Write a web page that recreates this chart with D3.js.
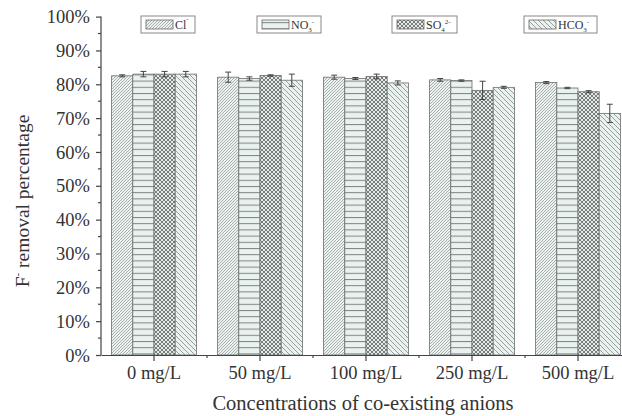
<!DOCTYPE html>
<html>
<head>
<meta charset="utf-8">
<script src="https://cdn.jsdelivr.net/npm/d3@7"></script>
<style>
  body { margin: 0; background: #fff; }
  text { font-family: "Liberation Serif", "Times New Roman", serif; fill: #333; }
</style>
</head>
<body>
<div id="chart"></div>
<script>
var categories = ["0 mg/L", "50 mg/L", "100 mg/L", "250 mg/L", "500 mg/L"];
var seriesNames = ["Cl", "NO3", "SO4", "HCO3"];
var clValues   = [82.5, 82.1, 82.1, 81.3, 80.5];
var no3Values  = [83.0, 81.7, 81.7, 81.1, 78.9];
var so4Values  = [83.0, 82.6, 82.3, 78.2, 77.8];
var hco3Values = [83.0, 81.2, 80.4, 79.1, 71.4];
var clErr   = [0.3, 1.5, 0.6, 0.4, 0.3];
var no3Err  = [0.8, 0.5, 0.3, 0.2, 0.2];
var so4Err  = [0.8, 0.2, 0.7, 2.7, 0.3];
var hco3Err = [0.8, 1.8, 0.6, 0.3, 2.7];
var yTicks = [0, 10, 20, 30, 40, 50, 60, 70, 80, 90, 100];

var width = 622, height = 416;
var x0 = 101, x1 = 631, yBottom = 355, yTop = 16.6; // plot frame

var svg = d3.select('#chart')
  .append('svg')
  .attr('width', width)
  .attr('height', height);

// hatch patterns
var defs = svg.append('defs');
var fillCol = '#eaf2f0', lineCol = '#8f9493';

var p1 = defs.append('pattern').attr('id', 'pCl').attr('patternUnits', 'userSpaceOnUse')
  .attr('width', 3).attr('height', 3);
p1.append('rect').attr('width', 3).attr('height', 3).attr('fill', fillCol);
p1.append('path').attr('d', 'M-1,1 L1,-1 M0,3 L3,0 M2,4 L4,2').attr('stroke', lineCol).attr('stroke-width', 0.7);

var p2 = defs.append('pattern').attr('id', 'pNO3').attr('patternUnits', 'userSpaceOnUse')
  .attr('width', 6).attr('height', 6.2);
p2.append('rect').attr('width', 6).attr('height', 6.2).attr('fill', fillCol);
p2.append('path').attr('d', 'M0,0.5 L6,0.5').attr('stroke', '#7d8382').attr('stroke-width', 1);

var p3 = defs.append('pattern').attr('id', 'pSO4').attr('patternUnits', 'userSpaceOnUse')
  .attr('width', 4).attr('height', 4);
p3.append('rect').attr('width', 4).attr('height', 4).attr('fill', '#e4ebe9');
p3.append('path').attr('d', 'M0,0 L4,4 M4,0 L0,4').attr('stroke', '#6a706e').attr('stroke-width', 0.9);

var p4 = defs.append('pattern').attr('id', 'pHCO3').attr('patternUnits', 'userSpaceOnUse')
  .attr('width', 5).attr('height', 5);
p4.append('rect').attr('width', 5).attr('height', 5).attr('fill', fillCol);
p4.append('path').attr('d', 'M-1,-1 L6,6 M-1,4 L1,6 M4,-1 L6,1').attr('stroke', lineCol).attr('stroke-width', 0.9);

var fills = {Cl: 'url(#pCl)', NO3: 'url(#pNO3)', SO4: 'url(#pSO4)', HCO3: 'url(#pHCO3)'};

var xScale = d3.scaleBand().domain(categories).range([x0, x1]).paddingInner(0).paddingOuter(0);
var xInner = d3.scaleBand().domain(seriesNames).range([0, xScale.bandwidth() * 0.8]);
var yScale = d3.scaleLinear().domain([0, 100]).range([yBottom, yTop]);

var data = [];
categories.forEach(function(c, i){
  data.push({cat: c, s: 'Cl', v: clValues[i], e: clErr[i]});
  data.push({cat: c, s: 'NO3', v: no3Values[i], e: no3Err[i]});
  data.push({cat: c, s: 'SO4', v: so4Values[i], e: so4Err[i]});
  data.push({cat: c, s: 'HCO3', v: hco3Values[i], e: hco3Err[i]});
});

function barX(d){
  return xScale(d.cat) + xScale.bandwidth() * 0.1 + xInner(d.s);
}

svg.selectAll('rect.bar')
  .data(data)
  .enter()
  .append('rect')
  .attr('class', 'bar')
  .attr('x', barX)
  .attr('y', function(d){ return yScale(d.v) })
  .attr('width', xInner.bandwidth())
  .attr('height', function(d){ return yBottom - yScale(d.v) })
  .attr('fill', function(d){ return fills[d.s] })
  .attr('stroke', '#6b6f6e')
  .attr('stroke-width', 0.8);

// error bars
var eb = svg.selectAll('g.err').data(data).enter().append('g').attr('class', 'err')
  .attr('stroke', '#444').attr('stroke-width', 1);
eb.append('line')
  .attr('x1', function(d){ return barX(d) + xInner.bandwidth() / 2 })
  .attr('x2', function(d){ return barX(d) + xInner.bandwidth() / 2 })
  .attr('y1', function(d){ return yScale(d.v - d.e) })
  .attr('y2', function(d){ return yScale(d.v + d.e) });
eb.append('line')
  .attr('x1', function(d){ return barX(d) + xInner.bandwidth() / 2 - 3 })
  .attr('x2', function(d){ return barX(d) + xInner.bandwidth() / 2 + 3 })
  .attr('y1', function(d){ return yScale(d.v + d.e) })
  .attr('y2', function(d){ return yScale(d.v + d.e) });
eb.append('line')
  .attr('x1', function(d){ return barX(d) + xInner.bandwidth() / 2 - 3 })
  .attr('x2', function(d){ return barX(d) + xInner.bandwidth() / 2 + 3 })
  .attr('y1', function(d){ return yScale(d.v - d.e) })
  .attr('y2', function(d){ return yScale(d.v - d.e) });

// y axis
var yAxis = d3.axisLeft(yScale).tickValues(yTicks).tickSize(5).tickFormat(function(d){ return d + '%' });
var gy = svg.append('g').attr('transform', 'translate(' + x0 + ',0)').call(yAxis);
gy.select('.domain').attr('stroke', '#444').attr('stroke-width', 1.2).attr('d', 'M0,' + yTop + 'V' + yBottom);
gy.selectAll('.tick line').attr('stroke', '#444').attr('stroke-width', 1.2);
gy.selectAll('.tick text').attr('font-size', 18.5).attr('x', -11).attr('dy', '0.33em')
  .style('font-family', '"Liberation Serif", serif').attr('fill', '#333');
// minor y ticks
svg.append('g').selectAll('line').data(d3.range(5, 100, 10)).enter().append('line')
  .attr('x1', x0 - 3).attr('x2', x0)
  .attr('y1', function(d){ return yScale(d) }).attr('y2', function(d){ return yScale(d) })
  .attr('stroke', '#444').attr('stroke-width', 1.2);

// x axis
var xAxis = d3.axisBottom(xScale).tickSize(6).tickSizeOuter(0);
var gx = svg.append('g').attr('transform', 'translate(0,' + yBottom + ')').call(xAxis);
gx.select('.domain').attr('stroke', '#444').attr('stroke-width', 1.2);
gx.selectAll('.tick line').attr('stroke', '#444').attr('stroke-width', 1.2);
gx.selectAll('.tick text').attr('font-size', 18.5).attr('y', 11)
  .style('font-family', '"Liberation Serif", serif').attr('fill', '#333');
// minor x ticks at category boundaries
svg.append('g').selectAll('line').data(categories.slice(1)).enter().append('line')
  .attr('x1', function(d){ return xScale(d) }).attr('x2', function(d){ return xScale(d) })
  .attr('y1', yBottom).attr('y2', yBottom + 3)
  .attr('stroke', '#444').attr('stroke-width', 1.2);

// axis titles
svg.append('text')
  .attr('x', 363).attr('y', 410)
  .attr('text-anchor', 'middle').attr('font-size', 20.5)
  .text('Concentrations of co-existing anions');

var yl = svg.append('text')
  .attr('transform', 'translate(29,201) rotate(-90)')
  .attr('text-anchor', 'middle').attr('font-size', 19.5);
yl.append('tspan').text('F');
yl.append('tspan').attr('font-size', 11).attr('dy', -8).text('-');
yl.append('tspan').attr('dy', 8).text(' removal percentage');

// legend
var legendItems = [
  {s: 'Cl', x: 141, w: 54, base: 'Cl', sub: '', sup: '-'},
  {s: 'NO3', x: 257, w: 64, base: 'NO', sub: '3', sup: '-'},
  {s: 'SO4', x: 392, w: 65, base: 'SO', sub: '4', sup: '2-'},
  {s: 'HCO3', x: 524, w: 73, base: 'HCO', sub: '3', sup: '-'}
];
var lg = svg.selectAll('g.leg').data(legendItems).enter().append('g').attr('class', 'leg')
  .attr('transform', function(d){ return 'translate(' + d.x + ',16)' });
lg.append('rect').attr('width', function(d){ return d.w }).attr('height', 17)
  .attr('fill', '#fff').attr('stroke', '#888').attr('stroke-width', 1);
lg.append('rect').attr('x', 5).attr('y', 4).attr('width', 27).attr('height', 9)
  .attr('fill', function(d){ return fills[d.s] }).attr('stroke', '#666').attr('stroke-width', 0.8);
var lt = lg.append('text').attr('x', 34).attr('y', 13).attr('font-size', 12);
lt.append('tspan').text(function(d){ return d.base });
lt.append('tspan').attr('font-size', 7).attr('dy', 3).text(function(d){ return d.sub });
lt.append('tspan').attr('font-size', 7).attr('dy', -8).text(function(d){ return d.sup });
</script>
</body>
</html>
